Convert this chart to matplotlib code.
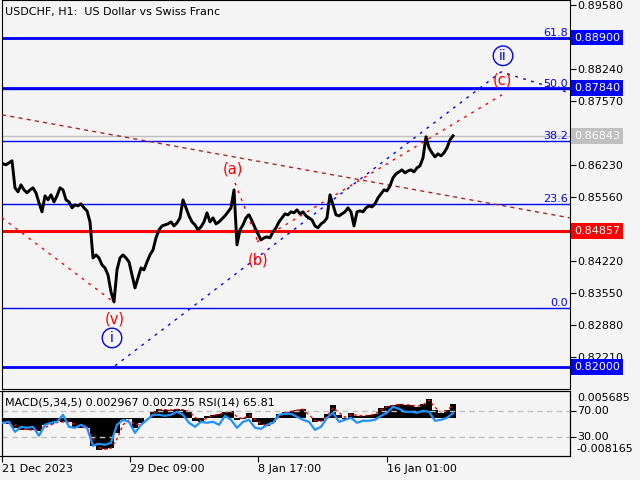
import matplotlib.pyplot as plt
import numpy as np

title = "USDCHF, H1:  US Dollar vs Swiss Franc"
bg = "#f4f4f4"

# hourly closes, sampled every 3 bars
close = [0.86257, 0.86236, 0.86278, 0.86320, 0.85754, 0.85670, 0.85817, 0.85712, 0.85649, 0.85712,
         0.85754, 0.85649, 0.85440, 0.85252, 0.85587, 0.85503, 0.85608, 0.85461, 0.85587, 0.85754,
         0.85712, 0.85503, 0.85461, 0.85335, 0.85398, 0.85377, 0.85419, 0.85335, 0.85273, 0.85042,
         0.84288, 0.84351, 0.84288, 0.84142, 0.84079, 0.83932, 0.83576, 0.83367, 0.84037, 0.84288,
         0.84351, 0.84288, 0.84205, 0.83932, 0.83660, 0.83870, 0.84079, 0.84037, 0.84205, 0.84351,
         0.84456, 0.84707, 0.84875, 0.84958, 0.84979, 0.85000, 0.85042, 0.84958, 0.85021, 0.85126,
         0.85503, 0.85335, 0.85168, 0.85042, 0.84979, 0.84875, 0.84938, 0.85042, 0.85231, 0.85042,
         0.85126, 0.85000, 0.85042, 0.85105, 0.85168, 0.85252, 0.85335, 0.85712, 0.84561, 0.84875,
         0.84979, 0.85126, 0.85189, 0.85063, 0.84917, 0.84791, 0.84665, 0.84707, 0.84728, 0.84707,
         0.84833, 0.84917, 0.85042, 0.85126, 0.85210, 0.85189, 0.85252, 0.85231, 0.85293, 0.85210,
         0.85252, 0.85168, 0.85126, 0.85084, 0.84958, 0.84917, 0.85000, 0.85042, 0.85126, 0.85608,
         0.85398, 0.85189, 0.85168, 0.85210, 0.85252, 0.85335, 0.85252, 0.84958, 0.85252, 0.85273,
         0.85252, 0.85335, 0.85377, 0.85356, 0.85419, 0.85545, 0.85629, 0.85712, 0.85691, 0.85796,
         0.85964, 0.86047, 0.86089, 0.86131, 0.86068, 0.86110, 0.86131, 0.86089, 0.86173, 0.86215,
         0.86382, 0.86822, 0.86592, 0.86487, 0.86403, 0.86466, 0.86424, 0.86487, 0.86592, 0.86759,
         0.86843]

# indicator values, sampled every 6 bars
macd = [-0.00113, -0.00134, -0.00219, -0.00262, -0.00262, -0.00262, -0.00283, -0.00155, -0.00134, -0.00070,
        -0.00092, -0.00092, -0.00198, -0.00219, -0.00219, -0.00603, -0.00688, -0.00667, -0.00645, -0.00326,
        -0.00049, -0.00028, -0.00219, -0.00113, -0.00006, 0.00143, 0.00185, 0.00164, 0.00164, 0.00185,
        0.00164, 0.00121, -0.00070, -0.00092, 0.00036, 0.00058, 0.00079, 0.00121, 0.00143, -0.00049,
        -0.00028, 0.00100, -0.00092, -0.00155, -0.00177, -0.00092, 0.00079, 0.00121, 0.00143, 0.00164,
        0.00185, -0.00006, -0.00092, -0.00070, 0.00079, 0.00271, 0.00058, -0.00028, 0.00100, 0.00036,
        0.00036, 0.00058, 0.00079, 0.00207, 0.00249, 0.00271, 0.00292, 0.00271, 0.00271, 0.00228,
        0.00292, 0.00398, 0.00164, 0.00100, 0.00164, 0.00297]
signal = [-0.00100, -0.00120, -0.00170, -0.00230, -0.00255, -0.00262, -0.00270, -0.00210, -0.00150, -0.00100,
          -0.00090, -0.00090, -0.00150, -0.00200, -0.00215, -0.00450, -0.00640, -0.00670, -0.00655, -0.00450,
          -0.00150, -0.00050, -0.00150, -0.00140, -0.00040, 0.00090, 0.00170, 0.00170, 0.00165, 0.00175,
          0.00170, 0.00135, 0.00010, -0.00080, -0.00010, 0.00050, 0.00070, 0.00110, 0.00135, 0.00020,
          -0.00030, 0.00060, -0.00040, -0.00130, -0.00165, -0.00120, 0.00030, 0.00110, 0.00135, 0.00160,
          0.00180, 0.00060, -0.00060, -0.00075, 0.00030, 0.00210, 0.00110, 0.00010, 0.00070, 0.00050,
          0.00040, 0.00050, 0.00070, 0.00170, 0.00235, 0.00260, 0.00285, 0.00275, 0.00270, 0.00240,
          0.00275, 0.00370, 0.00220, 0.00120, 0.00150, 0.00274]
rsi = [51.1, 52.6, 37.2, 44.9, 43.4, 44.9, 31.1, 48.0, 51.1, 52.6,
       63.4, 44.9, 43.4, 48.0, 43.4, 15.7, 18.8, 17.3, 20.3, 48.0,
       55.7, 52.6, 35.7, 48.0, 55.7, 63.4, 63.4, 61.8, 63.4, 68.0,
       63.4, 51.1, 44.9, 52.6, 51.1, 52.6, 48.0, 61.8, 55.7, 43.4,
       52.6, 55.7, 43.4, 41.8, 48.0, 51.1, 63.4, 64.9, 64.9, 60.3,
       55.7, 52.6, 40.3, 44.9, 58.8, 66.5, 52.6, 55.7, 58.8, 51.1,
       54.2, 54.2, 55.7, 61.8, 66.5, 75.7, 72.6, 68.0, 68.0, 66.5,
       69.5, 68.0, 54.2, 55.7, 58.8, 65.81]

price_ticks = [0.89580, 0.88240, 0.87570, 0.86230, 0.85560, 0.84220, 0.83550, 0.82880, 0.82210]
time_ticks = [2, 130, 258, 387]
time_labels = ["21 Dec 2023", "29 Dec 09:00", "8 Jan 17:00", "16 Jan 01:00"]

blue_levels = [0.88900, 0.87840, 0.82000]
red_level = 0.84857
last_price = 0.86843
fib_low, fib_high = 0.8325, 0.9239
fib_pcts = [0.0, 23.6, 38.2, 50.0, 61.8]

# trendlines (bar, price)
brown_line = ([2, 570], [0.87283, 0.85126])
red_down = ([2, 112], [0.85126, 0.83390])
blue_up = ([115, 501, 570], [0.82030, 0.88180, 0.87740])
red_ab = ([235, 258], [0.85859, 0.84623])
red_bc = ([257, 502], [0.84623, 0.87702])

red_waves = [("(a)", 233, 0.86152), ("(b)", 258, 0.84247), ("(v)", 115, 0.83011), ("(c)", 502, 0.88016)]
blue_waves = [("i", 112, 0.82613), ("ii", 503, 0.88518)]

plt.rcParams['font.family'] = 'DejaVu Sans'
fig = plt.figure(figsize=(6.4, 4.8), dpi=100, facecolor=bg)
ax = fig.add_axes([2/640, 91/480, 568/640, 389/480], facecolor=bg)
sub = fig.add_axes([2/640, 24/480, 568/640, 65/480], facecolor=bg)

bx = 3 + 3*np.arange(len(close))
ax.set_xlim(2, 570)
ax.set_ylim(0.81545, 0.89685)

for lv in blue_levels:
    ax.axhline(lv, color='#0000ff', lw=2, zorder=2)
ax.axhline(red_level, color='#ff0000', lw=2.2, zorder=2)
ax.axhline(last_price, color='#c0c0c0', lw=1, zorder=1)
for p in fib_pcts:
    lv = fib_low + p/100*(fib_high - fib_low)
    ax.axhline(lv, color='#0000ff', lw=1, zorder=2)
    ax.text(568, lv, "%.1f" % p, color='#0000ff', fontsize=8, ha='right', va='bottom')

ax.plot(*brown_line, color='#a52a2a', lw=1, ls=(0, (3, 3)), zorder=3)
ax.plot(*red_down, color='#ff0000', lw=1, ls=(0, (2, 4)), zorder=3)
ax.plot(*blue_up, color='#0000ff', lw=1, ls=(0, (2, 4)), zorder=3)
ax.plot(*red_ab, color='#ff0000', lw=1, ls=(0, (2, 4)), zorder=3)
ax.plot(*red_bc, color='#ff0000', lw=1, ls=(0, (2, 4)), zorder=3)

ax.plot(bx, close, color='black', lw=2.1, zorder=4)

for t, x, y in red_waves:
    ax.text(x, y, t, color='#ff0000', fontsize=10.5, ha='center', va='center', zorder=5)
for t, x, y in blue_waves:
    ax.text(x, y, t, color='#0000ff', fontsize=10, ha='center', va='center', zorder=5,
            bbox=dict(boxstyle='circle,pad=0.2', fc='none', ec='#0000ff', lw=1))

ax.text(5, 0.89685 - 12*0.0002094, title, fontsize=8, va='center', ha='left')

ax.yaxis.tick_right()
ax.set_yticks(price_ticks)
ax.set_yticklabels(["%.5f" % v for v in price_ticks])
ax.tick_params(axis='y', direction='out', length=4, pad=1, labelsize=8)
ax.set_xticks([])

tr = ax.get_yaxis_transform()
tags = [(0.88900, '#0000ff'), (0.87840, '#0000ff'), (last_price, '#c0c0c0'),
        (red_level, '#ff0000'), (0.82000, '#0000ff')]
for v, c in tags:
    ax.text(1.0070, v, "%.5f" % v, transform=tr, color='white', fontsize=8, va='center', ha='left',
            bbox=dict(boxstyle='square,pad=0.25', fc=c, ec='none'), zorder=6, clip_on=False)

# indicator panel
ix = 3 + 6*np.arange(len(macd))
sub.set_xlim(2, 570)
sub.set_ylim(-0.008165, 0.005685)
sub.bar(ix, macd, width=6, color='black', zorder=2)
sub.plot(ix, signal, color='#ff0000', lw=1, ls=(0, (2, 2)), zorder=3)
sub.yaxis.tick_right()
sub.set_yticks([-0.008165, 0.005685])
sub.set_yticklabels(["", ""])
sub.tick_params(axis='y', direction='out', length=4)

rax = sub.twinx()
rax.set_ylim(0, 100)
rax.axhline(70, color='#c0c0c0', lw=1, ls=(0, (4, 3)), zorder=1)
rax.axhline(30, color='#c0c0c0', lw=1, ls=(0, (4, 3)), zorder=1)
rax.plot(ix, rsi, color='#1e90ff', lw=1.6, zorder=4)
rax.set_yticks([70, 30])
rax.set_yticklabels(["70.00", "30.00"])
rax.tick_params(axis='y', direction='out', length=4, pad=1, labelsize=8)
rax.text(1.012, 0.892, "0.005685", transform=rax.transAxes, fontsize=8, va='center')
rax.text(1.012, 0.108, "-0.008165", transform=rax.transAxes, fontsize=8, va='center')
rax.text(0.005, 0.83, "MACD(5,34,5) 0.002967 0.002735 RSI(14) 65.81", transform=rax.transAxes,
         fontsize=8, va='center', ha='left')

sub.set_xticks(time_ticks)
sub.set_xticklabels(time_labels)
for lbl in sub.get_xticklabels():
    lbl.set_ha('left')
sub.tick_params(axis='x', direction='out', length=4, pad=2, labelsize=8)

fig.savefig("out.png", dpi=100, facecolor=bg)
